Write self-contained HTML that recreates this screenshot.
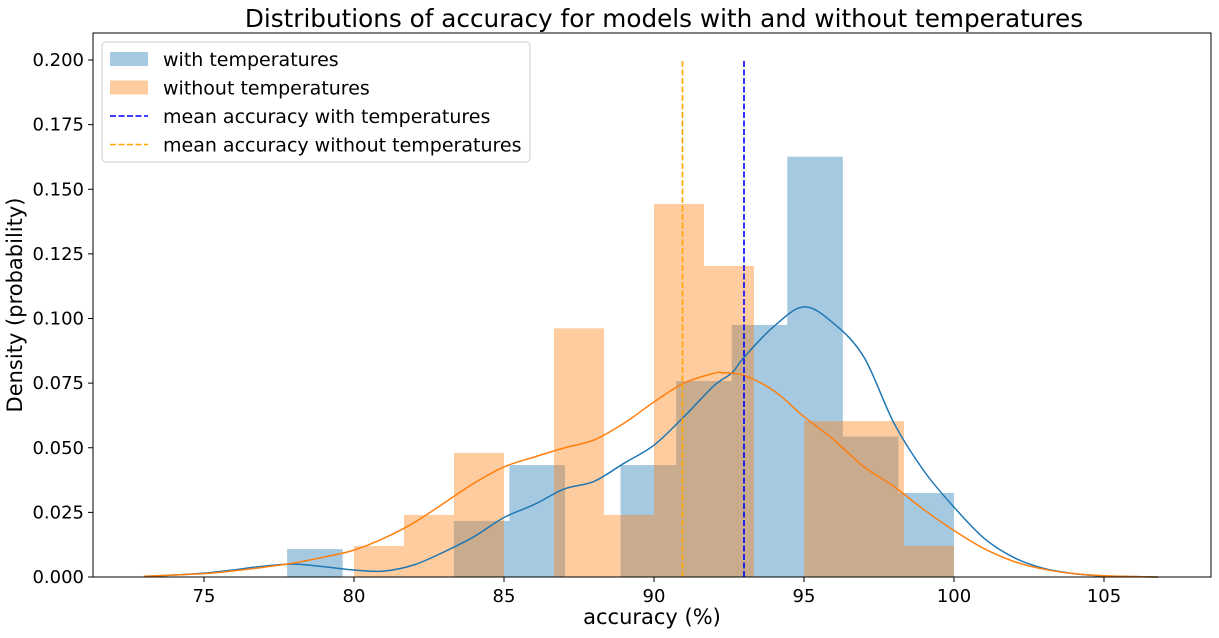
<!DOCTYPE html>
<html><head><meta charset="utf-8"><style>
body{margin:0;background:#fff;font-family:"DejaVu Sans",sans-serif}
svg text{font-family:"DejaVu Sans",sans-serif}
</style></head><body>
<svg id="chart" width="1219" height="634" xmlns="http://www.w3.org/2000/svg"></svg>
<script>
const blueBinStart = 77.77, blueBinEnd = 100;
const blueDensity = [0.0108,0,0,0.0217,0.0433,0,0.0433,0.0758,0.0975,0.1626,0.0543,0.0325];
const orangeBinStart = 80, orangeBinEnd = 100;
const orangeDensity = [0.012,0.024,0.048,0,0.0962,0.024,0.1443,0.1203,0,0.0603,0.0603,0.012];
const blueKdeX = [73,75,77,78,79,80,81,82,83,84,85,86,87,88,89,90,91,92,92.6,93,94,95,96,97,98,99,100,101,102,103,104,105,106.8];
const blueKdeY = [0.0002,0.0015,0.0042,0.005,0.004,0.0027,0.0023,0.0047,0.0097,0.0156,0.023,0.028,0.034,0.037,0.044,0.051,0.062,0.074,0.079,0.085,0.097,0.1045,0.098,0.085,0.0595,0.041,0.027,0.015,0.0075,0.0033,0.0013,0.0004,0];
const orangeKdeX = [73,75,76,77,78,79,80,81,82,83,84,85,86,87,88,89,90,91,92,92.3,93,94,95,96,97,98,99,100,101,102,103,104,105,106.8];
const orangeKdeY = [0.0003,0.0013,0.0024,0.0038,0.0054,0.0077,0.0104,0.015,0.021,0.0286,0.0363,0.0426,0.0464,0.0499,0.053,0.0595,0.0677,0.075,0.0788,0.079,0.078,0.072,0.062,0.053,0.0426,0.035,0.026,0.018,0.011,0.006,0.003,0.0013,0.0005,0];
const meanWith = 93.0, meanWithout = 90.95;
const xTicks = [75,80,85,90,95,100,105];
const yTicks = [0,0.025,0.05,0.075,0.1,0.125,0.15,0.175,0.2];
const yTickLabels = ["0.000","0.025","0.050","0.075","0.100","0.125","0.150","0.175","0.200"];

const NS="http://www.w3.org/2000/svg";
const svg=document.getElementById('chart');
const L=93,R=1211,T=33,B=577;
const xs=v=>354+(v-80)*30.0;
const ys=v=>B-v*2585;
function mk(tag,attrs,parent){const e=document.createElementNS(NS,tag);for(const k in attrs)e.setAttribute(k,attrs[k]);(parent||svg).appendChild(e);return e;}

const title=mk('text',{x:664,y:27,'font-size':24.7,'text-anchor':'middle',fill:'#000'});
title.textContent='Distributions of accuracy for models with and without temperatures';



function bars(start,end,vals,color,name){
  const w=(end-start)/vals.length;
  vals.forEach((v,i)=>{
    if(v<=0)return;
    const r=mk('rect',{x:xs(start+i*w),y:ys(v),width:xs(start+(i+1)*w)-xs(start+i*w),height:ys(0)-ys(v),fill:color,'fill-opacity':0.4});
    
    
  });
}
bars(blueBinStart,blueBinEnd,blueDensity,'#1f77b4','with-temp');
bars(orangeBinStart,orangeBinEnd,orangeDensity,'#ff7f0e','without-temp');

function curve(xv,yv,color,name){
  const P=xv.map((x,i)=>[xs(x),ys(yv[i])]);
  let d='M'+P[0][0].toFixed(1)+','+P[0][1].toFixed(1);
  for(let i=0;i<P.length-1;i++){
    const p0=P[Math.max(0,i-1)],p1=P[i],p2=P[i+1],p3=P[Math.min(P.length-1,i+2)];
    const c1=[p1[0]+(p2[0]-p0[0])/6,p1[1]+(p2[1]-p0[1])/6];
    const c2=[p2[0]-(p3[0]-p1[0])/6,p2[1]-(p3[1]-p1[1])/6];
    d+=' C'+c1[0].toFixed(1)+','+c1[1].toFixed(1)+' '+c2[0].toFixed(1)+','+c2[1].toFixed(1)+' '+p2[0].toFixed(1)+','+p2[1].toFixed(1);
  }
  const p=mk('path',{d:d,fill:'none',stroke:color,'stroke-width':1.5,'stroke-linejoin':'round'});
  
  
}
curve(blueKdeX,blueKdeY,'#1f77b4','kde-with-temp');
curve(orangeKdeX,orangeKdeY,'#ff7f0e','kde-without-temp');

const m1=mk('line',{x1:xs(meanWithout),x2:xs(meanWithout),y1:ys(0),y2:ys(0.2),stroke:'orange','stroke-width':1.6,'stroke-dasharray':'6,2.5'});


const m2=mk('line',{x1:xs(meanWith),x2:xs(meanWith),y1:ys(0),y2:ys(0.2),stroke:'blue','stroke-width':1.6,'stroke-dasharray':'6,2.5'});



const frame=mk('rect',{x:L,y:T,width:R-L,height:B-T,fill:'none',stroke:'#000','stroke-width':1});



xTicks.forEach(t=>{
  const x=xs(t);
  mk('line',{x1:x,x2:x,y1:B,y2:B+5,stroke:'#000'});
  const tx=mk('text',{x:x,y:B+25,'font-size':18,'text-anchor':'middle'});
  tx.textContent=t;
  
  
});
yTicks.forEach((t,i)=>{
  const y=ys(t);
  mk('line',{x1:L-5,x2:L,y1:y,y2:y,stroke:'#000'});
  const tx=mk('text',{x:L-9,y:y+6,'font-size':18,'text-anchor':'end'});
  tx.textContent=yTickLabels[i];
  
  
});
const xl=mk('text',{x:652,y:624,'font-size':21,'text-anchor':'middle'});
xl.textContent='accuracy (%)';


const yl=mk('text',{x:22,y:305,'font-size':21,'text-anchor':'middle',transform:'rotate(-90 22 305)'});
yl.textContent='Density (probability)';



const lg=mk('g',{});


mk('rect',{x:102,y:42,width:428,height:120,rx:4,fill:'#fff','fill-opacity':0.8,stroke:'#ccc'},lg);
const entries=[['rect','#1f77b4','with temperatures'],['rect','#ff7f0e','without temperatures'],['line','blue','mean accuracy with temperatures'],['line','orange','mean accuracy without temperatures']];
entries.forEach((e,i)=>{
  const cy=59+i*28.5;
  const g=mk('g',{},lg);
  
  
  if(e[0]==='rect')mk('rect',{x:110,y:cy-7,width:38,height:14,fill:e[1],'fill-opacity':0.4},g);
  else mk('line',{x1:110,x2:148,y1:cy,y2:cy,stroke:e[1],'stroke-width':1.6,'stroke-dasharray':'6,2.5'},g);
  const t=mk('text',{x:163,y:cy+7,'font-size':19},g);
  t.textContent=e[2];
});
</script>
</body></html>
